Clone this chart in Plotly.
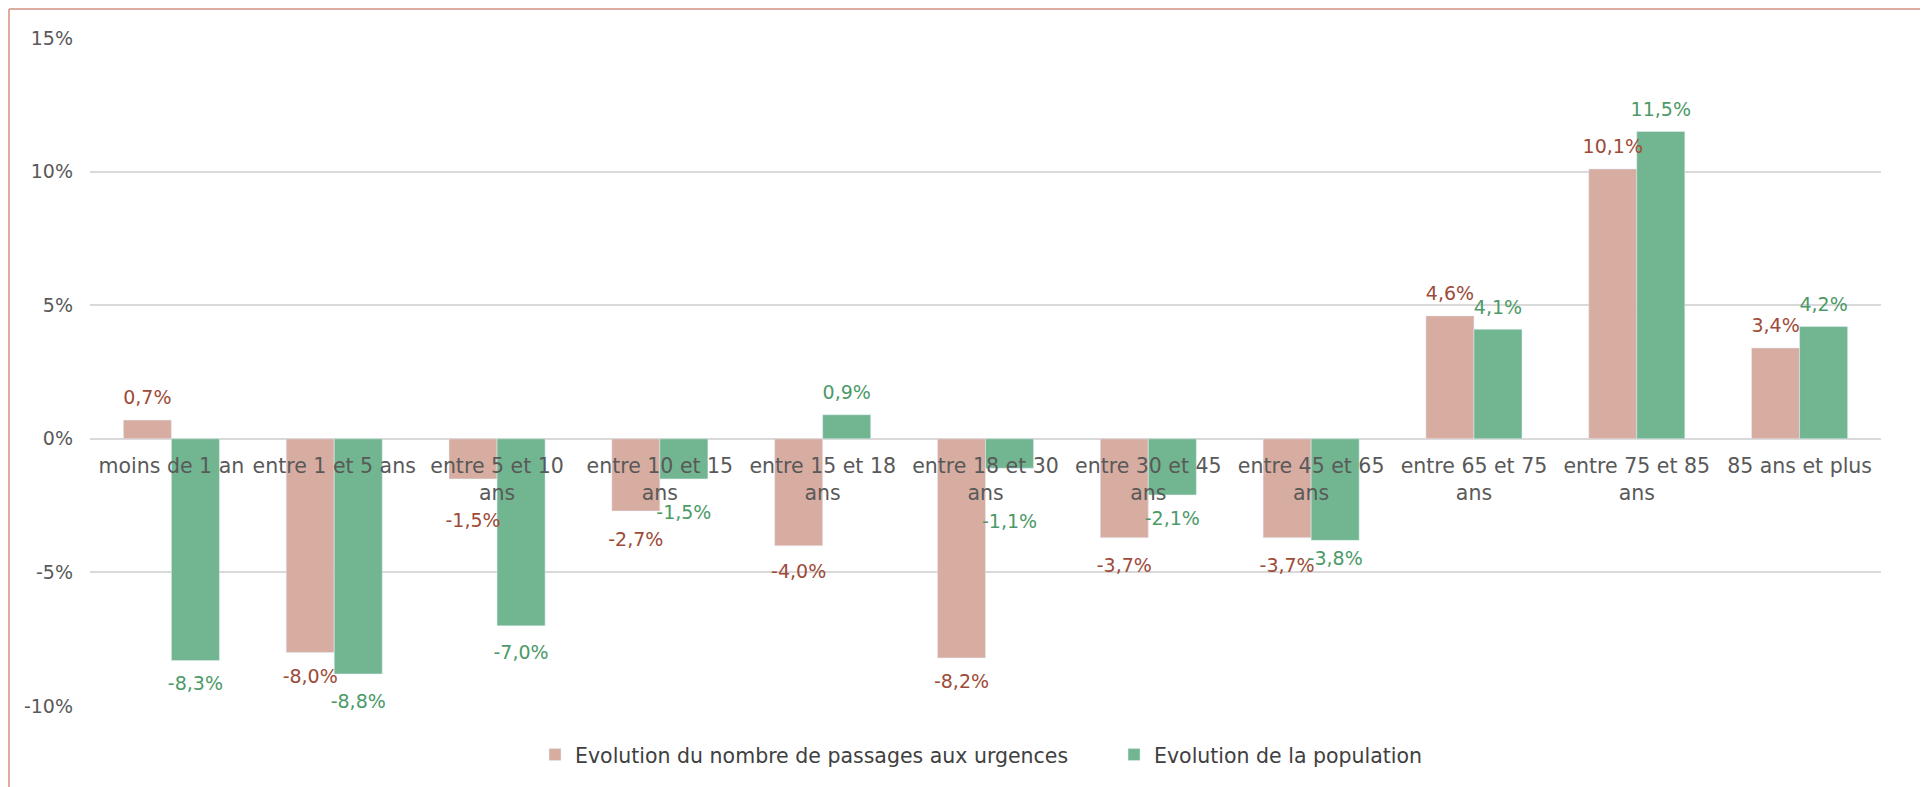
import plotly.graph_objects as go

categories = [
    "moins de 1 an", "entre 1 et 5 ans", "entre 5 et 10<br>ans", "entre 10 et 15<br>ans",
    "entre 15 et 18<br>ans", "entre 18 et 30<br>ans", "entre 30 et 45<br>ans",
    "entre 45 et 65<br>ans", "entre 65 et 75<br>ans", "entre 75 et 85<br>ans", "85 ans et plus",
]
passages = [0.7, -8.0, -1.5, -2.7, -4.0, -8.2, -3.7, -3.7, 4.6, 10.1, 3.4]
population = [-8.3, -8.8, -7.0, -1.5, 0.9, -1.1, -2.1, -3.8, 4.1, 11.5, 4.2]
series_names = ["Evolution du nombre de passages aux urgences", "Evolution de la population"]
y_ticks = [-10, -5, 0, 5, 10, 15]
y_tick_text = ["-10%", "-5%", "0%", "5%", "10%", "15%"]

# label spacing from bar end (invisible marker size), mirrors manual label placement
label_pad_passages = [16, 25, 52, 32, 28, 23, 30, 30, 16, 16, 16]
label_pad_population = [23, 30, 28, 40, 16, 72, 23, 15, 16, 16, 16]

FONT = "DejaVu Sans"
FS = 19
FS_CAT = 20.5
PINK, GREEN = "#d8ada1", "#71b690"
PINK_TXT, GREEN_TXT = "#9d4b38", "#4c9a68"

W, H = 1920, 779
ML, MR, MT, MB = 82, 47, 30, 81
PW, PH = W - ML - MR, H - MT - MB

fig = go.Figure()
for name, vals, pads, col, tcol, grp in [
    (series_names[0], passages, label_pad_passages, PINK, PINK_TXT, "a"),
    (series_names[1], population, label_pad_population, GREEN, GREEN_TXT, "b"),
]:
    fig.add_trace(go.Bar(
        x=categories, y=vals, name=name, marker_color=col, offsetgroup=grp,
    ))
    fig.add_trace(go.Scatter(
        x=categories, y=vals, mode="markers+text", offsetgroup=grp, showlegend=False,
        marker=dict(size=pads, opacity=0),
        cliponaxis=False, hoverinfo="skip",
        texttemplate="%{y:.1f}%",
        textposition=["top center" if v >= 0 else "bottom center" for v in vals],
        textfont=dict(color=tcol, size=FS, family=FONT),
    ))

fig.update_layout(
    width=W, height=H,
    margin=dict(l=ML, r=MR, t=MT, b=MB),
    paper_bgcolor="white", plot_bgcolor="white",
    separators=", ",
    barmode="group", bargap=0.41, bargroupgap=0,
    scattermode="group", scattergap=0.41,
    font=dict(family=FONT, color="#595959", size=FS),
    showlegend=True,
    legend=dict(orientation="h", x=(527 - ML) / PW, xanchor="left", y=-0.073, yanchor="middle",
                font=dict(size=FS_CAT, color="#404040", family=FONT), traceorder="normal",
                itemwidth=30, entrywidth=534, entrywidthmode="pixels",
                bgcolor="rgba(0,0,0,0)"),
    xaxis=dict(anchor="free", position=0.4, showline=False, ticks="", showgrid=False,
               tickfont=dict(size=FS_CAT, color="#595959", family=FONT), ticklabelstandoff=13,
               fixedrange=True),
    yaxis=dict(range=[-10, 15], tickmode="array", tickvals=y_ticks, ticktext=y_tick_text,
               showgrid=True, gridcolor="#d9d9d9", gridwidth=2, zeroline=False, showline=False,
               tickfont=dict(size=FS, color="#595959", family=FONT), ticklabelstandoff=16),
    shapes=[
        dict(type="line", xref="paper", yref="paper", x0=-(ML - 1) / PW, x1=-(ML - 1) / PW,
             y0=-MB / PH, y1=(PH + MT - 1) / PH, line=dict(color="#dcaca0", width=2)),
        dict(type="line", xref="paper", yref="paper", x0=-(ML - 1) / PW, x1=(PW + MR) / PW,
             y0=(PH + MT - 1) / PH, y1=(PH + MT - 1) / PH, line=dict(color="#dcaca0", width=2)),
    ],
)
fig.write_html("out.html")
